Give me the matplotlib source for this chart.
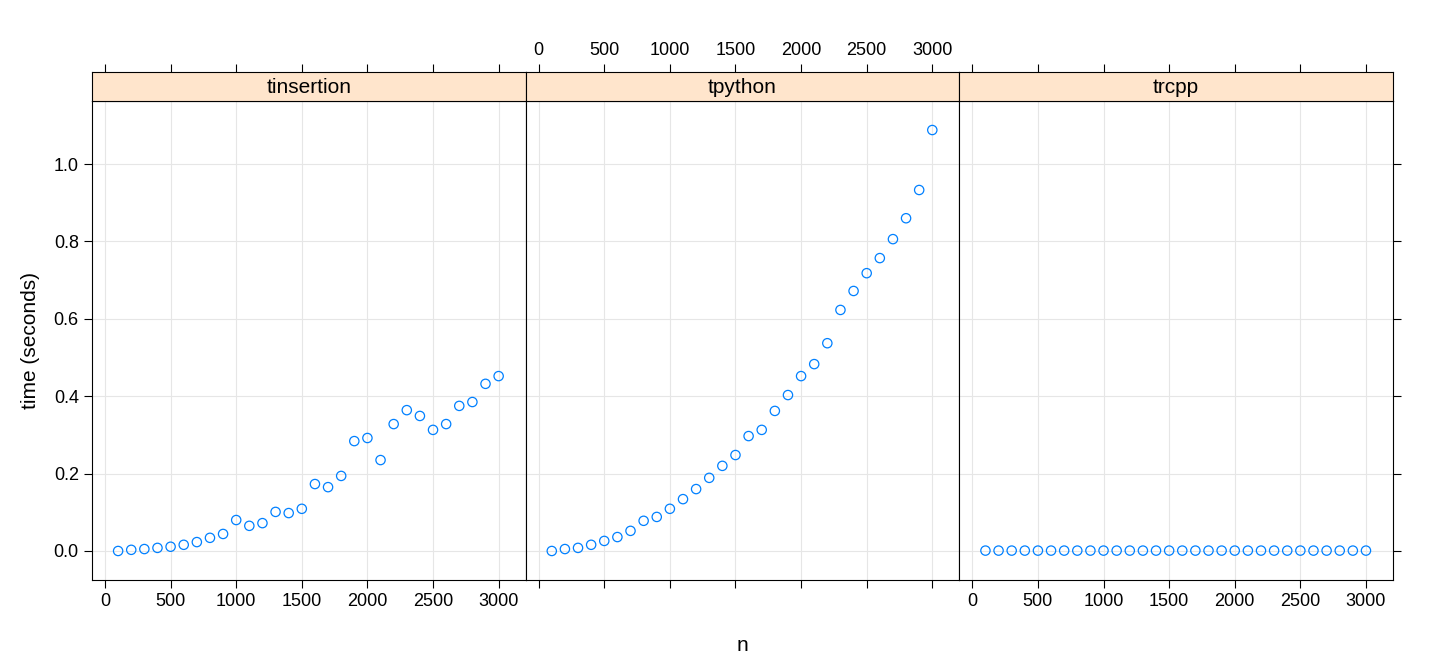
import matplotlib
matplotlib.use('Agg')
import matplotlib.pyplot as plt
import numpy as np

n = list(range(100, 3001, 100))
tinsertion = [0.000, 0.003, 0.005, 0.008, 0.011, 0.016, 0.023, 0.034, 0.044, 0.080,
              0.065, 0.072, 0.101, 0.098, 0.109, 0.173, 0.165, 0.194, 0.284, 0.292,
              0.235, 0.328, 0.364, 0.349, 0.313, 0.328, 0.375, 0.385, 0.432, 0.452]
tpython = [0.000, 0.005, 0.008, 0.016, 0.026, 0.036, 0.052, 0.078, 0.088, 0.109,
           0.134, 0.160, 0.189, 0.220, 0.248, 0.297, 0.313, 0.362, 0.403, 0.452,
           0.483, 0.537, 0.623, 0.672, 0.718, 0.757, 0.806, 0.860, 0.933, 1.088]
trcpp = [0.001] * 30
panels = ['tinsertion', 'tpython', 'trcpp']
series = [tinsertion, tpython, trcpp]

W, H = 1440, 672
fig = plt.figure(figsize=(W / 100, H / 100), dpi=100)
plt.rcParams['font.family'] = ['Liberation Sans', 'DejaVu Sans']

xt = [0, 500, 1000, 1500, 2000, 2500, 3000]
yt = [0.0, 0.2, 0.4, 0.6, 0.8, 1.0]
xlim = (-99, 3206)
ylim = (-0.075, 1.163)

left, pw = 92, (1393 - 92) / 3
ptop, pbot, stop = 101, 580, 72

def px(x0, y0, x1, y1):
    return [x0 / W, 1 - y1 / H, (x1 - x0) / W, (y1 - y0) / H]

for i, (name, y) in enumerate(zip(panels, series)):
    x0 = left + i * pw
    ax = fig.add_axes(px(x0, ptop, x0 + pw, pbot))
    ax.scatter(n, y, s=45, facecolors='none', edgecolors='#0080FF', linewidths=0.9, zorder=3)
    ax.set_xlim(xlim)
    ax.set_ylim(ylim)
    ax.set_xticks(xt)
    ax.set_yticks(yt)
    ax.grid(True, color='#e6e6e6', lw=0.8)
    ax.set_axisbelow(True)
    ax.tick_params(direction='out', length=6, labelsize=13, width=0.8)
    ax.tick_params(axis='y', right=(i == 2), left=(i == 0), labelleft=(i == 0))
    ax.tick_params(axis='x', labelbottom=(i != 1))
    if i == 0:
        ax.set_yticklabels([f'{v:.1f}' for v in yt])
        ax.set_ylabel('time (seconds)', fontsize=15, labelpad=10)
    if i == 1:
        ax.set_xlabel('n', fontsize=15, labelpad=34)
    for s in ax.spines.values():
        s.set_linewidth(0.8)

    sx = fig.add_axes(px(x0, stop, x0 + pw, ptop))
    sx.set_facecolor('#FFE5CC')
    sx.set_xlim(xlim)
    sx.set_yticks([])
    sx.set_xticks(xt)
    sx.tick_params(axis='x', bottom=False, labelbottom=False, top=True,
                   labeltop=(i == 1), direction='out', length=6, labelsize=13, width=0.8)
    sx.text(0.5, 0.45, name, transform=sx.transAxes, ha='center', va='center', fontsize=15)
    for s in sx.spines.values():
        s.set_linewidth(0.8)

fig.savefig('out.png', dpi=100, facecolor='white')
